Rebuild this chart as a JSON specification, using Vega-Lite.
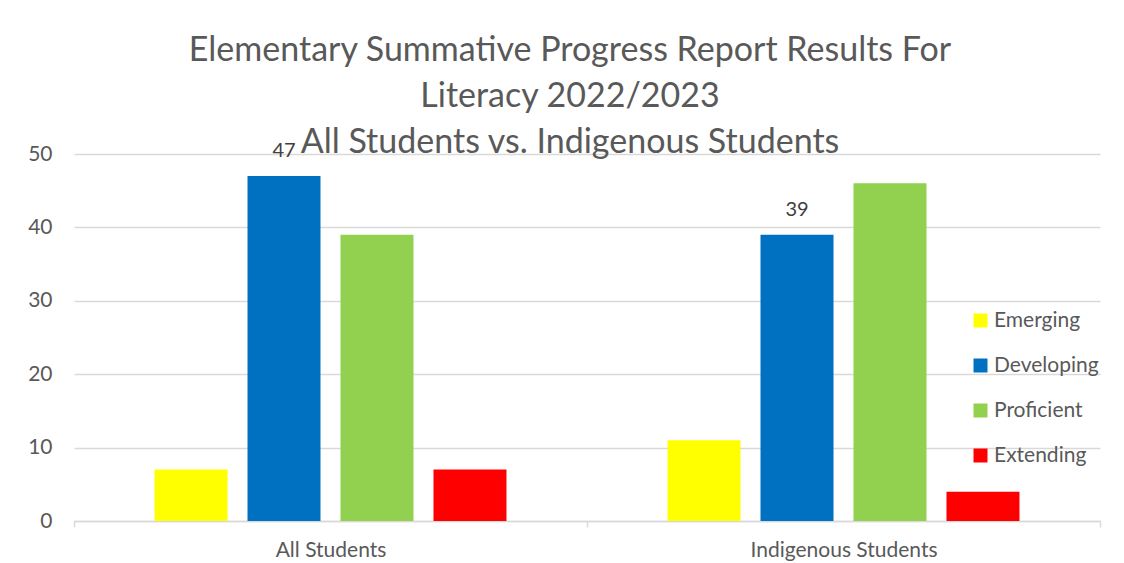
{
  "$schema": "https://vega.github.io/schema/vega-lite/v6.json",
  "autosize": {"type": "none"},
  "width": 1026,
  "height": 367,
  "padding": {"left": 74, "top": 154, "right": 24, "bottom": 42},
  "background": "white",
  "config": {
    "font": "Lato",
    "view": {"stroke": null}
  },
  "title": {
    "text": ["Elementary Summative Progress Report Results For", "Literacy 2022/2023", "All Students vs. Indigenous Students"],
    "fontSize": 34,
    "fontWeight": "normal",
    "color": "#595959",
    "lineHeight": 46,
    "anchor": "middle",
    "dx": -17,
    "offset": -19
  },
  "data": {
    "values": [
      {"group": "All Students", "level": "Emerging", "value": 7, "show": false},
      {"group": "All Students", "level": "Developing", "value": 47, "show": true},
      {"group": "All Students", "level": "Proficient", "value": 39, "show": false},
      {"group": "All Students", "level": "Extending", "value": 7, "show": false},
      {"group": "Indigenous Students", "level": "Emerging", "value": 11, "show": false},
      {"group": "Indigenous Students", "level": "Developing", "value": 39, "show": true},
      {"group": "Indigenous Students", "level": "Proficient", "value": 46, "show": false},
      {"group": "Indigenous Students", "level": "Extending", "value": 4, "show": false}
    ]
  },
  "encoding": {
    "x": {
      "field": "group", "type": "nominal",
      "scale": {"paddingInner": 0, "paddingOuter": 0},
      "axis": {
        "title": null, "labelAngle": 0, "labelFontSize": 21, "labelColor": "#595959", "labelLimit": 0,
        "domainColor": "#d9d9d9", "domainWidth": 1.5, "tickColor": "#d9d9d9", "tickWidth": 1.5,
        "tickSize": 6, "tickBand": "extent", "labelPadding": 12
      }
    },
    "xOffset": {
      "field": "level", "type": "nominal",
      "sort": ["Emerging", "Developing", "Proficient", "Extending"],
      "scale": {"paddingInner": 0.215, "paddingOuter": 0.866}
    },
    "y": {
      "field": "value", "type": "quantitative",
      "scale": {"domain": [0, 50]},
      "axis": {
        "title": null, "values": [0, 10, 20, 30, 40, 50], "labelFontSize": 21, "labelColor": "#595959",
        "domain": false, "ticks": false, "labelPadding": 22,
        "gridColor": "#d9d9d9", "gridWidth": 1.5
      }
    }
  },
  "layer": [
    {
      "mark": {"type": "bar"},
      "encoding": {
        "color": {
          "field": "level", "type": "nominal",
          "sort": ["Emerging", "Developing", "Proficient", "Extending"],
          "scale": {"domain": ["Emerging", "Developing", "Proficient", "Extending"], "range": ["#FFFF00", "#0070C0", "#92D050", "#FF0000"]},
          "legend": {
            "title": null, "orient": "none", "legendX": 896, "legendY": 156,
            "symbolType": "square", "symbolSize": 196, "symbolStrokeWidth": 0,
            "labelFontSize": 21, "labelColor": "#595959", "rowPadding": 23, "labelOffset": 3
          }
        }
      }
    },
    {
      "transform": [{"filter": "datum.show"}],
      "mark": {"type": "text", "baseline": "bottom", "dy": -15, "fontSize": 20, "color": "#404040"},
      "encoding": {"text": {"field": "value", "type": "quantitative"}}
    }
  ]
}
